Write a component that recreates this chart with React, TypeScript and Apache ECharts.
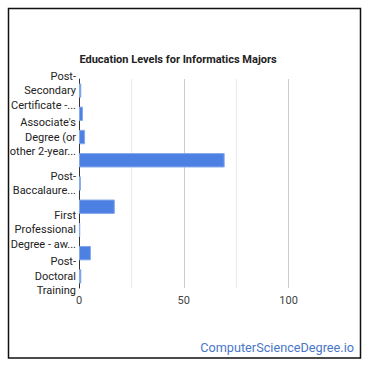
import React, { useEffect, useRef } from "react";
import * as echarts from "echarts";

const categories = [
  "Post-Secondary Certificate - awarded for training completed after high school",
  "Some College Courses",
  "Associate's Degree (or other 2-year degree)",
  "Bachelor's Degree",
  "Post-Baccalaureate Certificate",
  "Master's Degree",
  "First Professional Degree - awarded for completion of a program",
  "Doctoral Degree",
  "Post-Doctoral Training",
];
const displayLabels = [
  "Post-\nSecondary\nCertificate -...",
  "Some College\nCourses",
  "Associate's\nDegree (or\nother 2-year...",
  "Bachelor's\nDegree",
  "Post-\nBaccalaure...",
  "Master's\nDegree",
  "First\nProfessional\nDegree - aw...",
  "Doctoral\nDegree",
  "Post-\nDoctoral\nTraining",
];
const values = [1.1, 1.9, 2.9, 69.5, 0.9, 17.1, 0.6, 5.7, 1.1];
const title = "Education Levels for Informatics Majors";
const watermark = "ComputerScienceDegree.io";

export default function App() {
  const ref = useRef<HTMLDivElement>(null);
  useEffect(() => {
    if (!ref.current) return;
    const chart = echarts.init(ref.current, null, { renderer: "svg" });
    chart.setOption({
      animation: false,
      backgroundColor: "#ffffff",
      title: {
        text: title,
        left: 173,
        textAlign: "center",
        top: 49,
        textStyle: { fontFamily: "Roboto", fontSize: 11, fontWeight: "bold", color: "#222" },
      },
      grid: { left: 79, right: 29, top: 79, bottom: 82, containLabel: false },
      xAxis: {
        type: "value",
        min: 0,
        max: 125,
        interval: 25,
        axisLine: { show: false },
        axisTick: { show: false },
        axisLabel: {
          fontFamily: "Roboto",
          fontSize: 11,
          color: "#444",
          margin: 7,
          showMaxLabel: false,
          formatter: (v: number) => (v % 50 === 0 ? String(v) : ""),
        },
        splitLine: {
          showMaxLine: false,
          lineStyle: { color: ["#cccccc", "#ebebeb"], width: 1 },
        },
      },
      yAxis: {
        type: "category",
        inverse: true,
        data: categories,
        axisLine: { show: true, lineStyle: { color: "#333", width: 1 } },
        axisTick: { show: false },
        axisLabel: {
          interval: 1,
          fontFamily: "Roboto",
          fontSize: 11,
          color: "#222",
          lineHeight: 14.5,
          margin: 3,
          formatter: (_v: string, i: number) => displayLabels[i],
        },
      },
      series: [
        {
          type: "bar",
          data: values,
          barCategoryGap: "38%",
          itemStyle: { color: "#4d80e3", borderColor: "#86a9ec", borderWidth: 1 },
        },
      ],
      graphic: [
        {
          type: "rect",
          shape: { x: 8.5, y: 8.5, width: 352, height: 349.5 },
          style: { fill: "none", stroke: "#111", lineWidth: 1.5 },
          silent: true,
        },
        {
          type: "text",
          x: 354,
          y: 347,
          style: {
            text: watermark,
            fill: "#4a76c8",
            fontFamily: "Roboto",
            fontSize: 12.7,
            textAlign: "right",
            textVerticalAlign: "middle",
          },
        },
      ],
    });
    return () => chart.dispose();
  }, []);
  return (
    <div
      ref={ref}
      style={{ position: "absolute", left: 0, top: 0, width: 370, height: 370 }}
    />
  );
}
